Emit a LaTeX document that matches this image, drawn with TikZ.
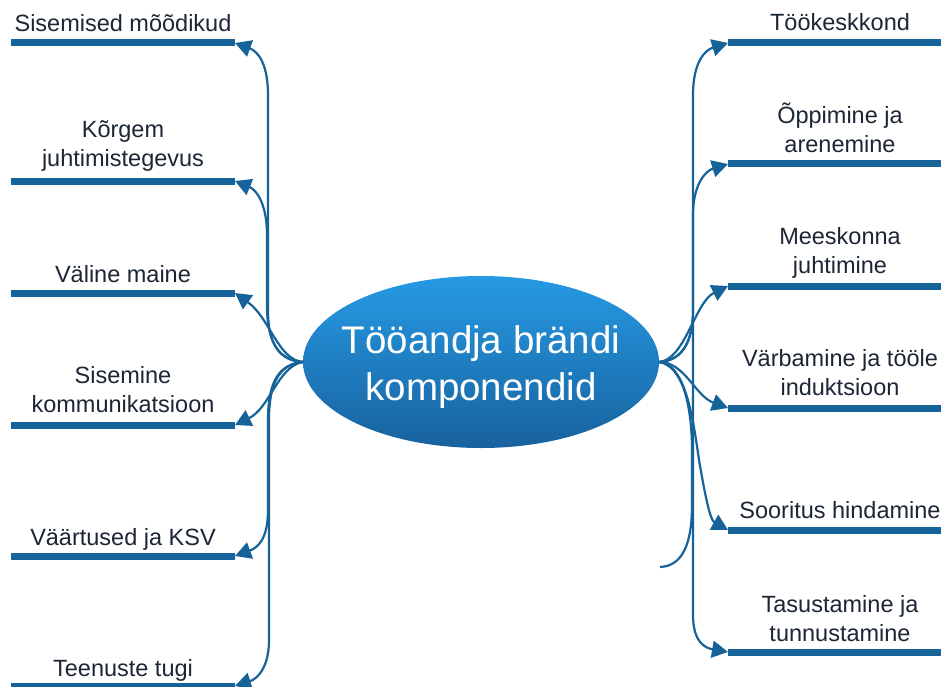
\documentclass[tikz,border=0pt]{standalone}
\usepackage{fontspec}
\setmainfont{Liberation Sans}
\usetikzlibrary{arrows.meta,shapes.geometric}
\definecolor{linkblue}{RGB}{22,99,153}
\definecolor{hubtop}{RGB}{38,154,228}
\definecolor{hubbottom}{RGB}{24,98,158}
\definecolor{labelink}{RGB}{28,38,52}

\begin{document}
\begin{tikzpicture}[x=1pt,y=-1pt,
  bar/.style={fill=linkblue, minimum height=7pt, minimum width=224pt, inner sep=0pt, outer sep=0pt},
  lbl/.style={text=labelink, font=\fontsize{23.5}{29}\selectfont, align=center, anchor=base, inner sep=0pt},
  hubshape/.style={ellipse, minimum width=356pt, minimum height=172pt, inner sep=0pt, outer sep=0pt,
    top color=hubtop, bottom color=hubbottom, draw=none},
  hubtext/.style={text=white, font=\fontsize{38.5}{47}\selectfont, align=center, anchor=base, inner sep=0pt},
  link/.style={draw=linkblue, line width=2.2pt},
  conn/.style={link, -{Triangle[length=16pt,width=17pt]}}
]
\useasboundingbox (0,0) rectangle (941,687);
\clip (0,0) rectangle (941,687);

% central hub (base anchor = baseline of the last line)
\node[hubshape] (hub) at (481,362) {};
\node[hubtext] (title) at (481,400) {Tööandja brändi\\komponendid};

% left bars
\node[bar] (l1) at (123,43) {};
\node[bar] (l2) at (123,181) {};
\node[bar] (l3) at (123,293) {};
\node[bar] (l4) at (123,425) {};
\node[bar] (l5) at (123,556) {};
\node[bar] (l6) at (123,686) {};
% right bars
\node[bar] (r1) at (840,43) {};
\node[bar] (r2) at (840,164) {};
\node[bar] (r3) at (840,286) {};
\node[bar] (r4) at (840,408) {};
\node[bar] (r5) at (840,530) {};
\node[bar] (r6) at (840,652) {};

% labels, placed by the baseline of their last line
\node[lbl] (t1) at (123,32) {Sisemised mõõdikud};
\node[lbl] (t2) at (123,167) {Kõrgem\\juhtimistegevus};
\node[lbl] (t3) at (123,282) {Väline maine};
\node[lbl] (t4) at (123,412) {Sisemine\\kommunikatsioon};
\node[lbl] (t5) at (123,545) {Väärtused ja KSV};
\node[lbl] (t6) at (123,676) {Teenuste tugi};
\node[lbl] (u1) at (840,31) {Töökeskkond};
\node[lbl] (u2) at (840,153) {Õppimine ja\\arenemine};
\node[lbl] (u3) at (840,273) {Meeskonna\\juhtimine};
\node[lbl] (u4) at (840,395) {Värbamine ja tööle\\induktsioon};
\node[lbl] (u5) at (840,518) {Sooritus hindamine};
\node[lbl] (u6) at (840,641) {Tasustamine ja\\tunnustamine};

% left connectors
\draw[conn] (hub.west) .. controls (280,361) and (268,345) .. (268,310) -- (268,95) .. controls (268,62) and (257,51) .. (l1.east);
\draw[conn] (hub.west) .. controls (280,360) and (267,345) .. (267,305) -- (267,235) .. controls (267,205) and (257,190) .. (l2.east);
\draw[conn] (hub.west) .. controls (278,360) and (270,318) .. (l3.east);
\draw[conn] (hub.west) .. controls (278,366) and (270,408) .. (l4.east);
\draw[conn] (hub.west) .. controls (280,364) and (268,380) .. (268,420) -- (268,510) .. controls (268,540) and (257,548) .. (l5.east);
\draw[conn] (hub.west) .. controls (281,364) and (269,380) .. (269,420) -- (269,640) .. controls (269,668) and (257,679) .. (l6.east);

% right connectors
\coordinate (rjoin) at (693,318);
\coordinate (rloose) at (660,567);
\draw[conn] (hub.east) .. controls (680,361) and (693,345) .. (693,310) -- (693,95) .. controls (693,62) and (705,50) .. (r1.west);
\draw[conn] (hub.east) .. controls (680,361) and (693,345) .. (693,310) -- (693,215) .. controls (693,185) and (705,171) .. (r2.west);
\draw[conn] (hub.east) .. controls (685,360) and (695,302) .. (r3.west);
\draw[conn] (hub.east) .. controls (685,362) and (695,396) .. (r4.west);
\draw[conn] (hub.east) .. controls (684,364) and (692,410) .. (699,460) .. controls (705,495) and (710,520) .. (r5.west);
\draw[conn] (rjoin) -- (693,615) .. controls (693,642) and (705,648) .. (r6.west);
\draw[link] (hub.east) .. controls (683,366) and (691,405) .. (692,445) -- (692,505) .. controls (692,545) and (682,566) .. (rloose);
\end{tikzpicture}
\end{document}
